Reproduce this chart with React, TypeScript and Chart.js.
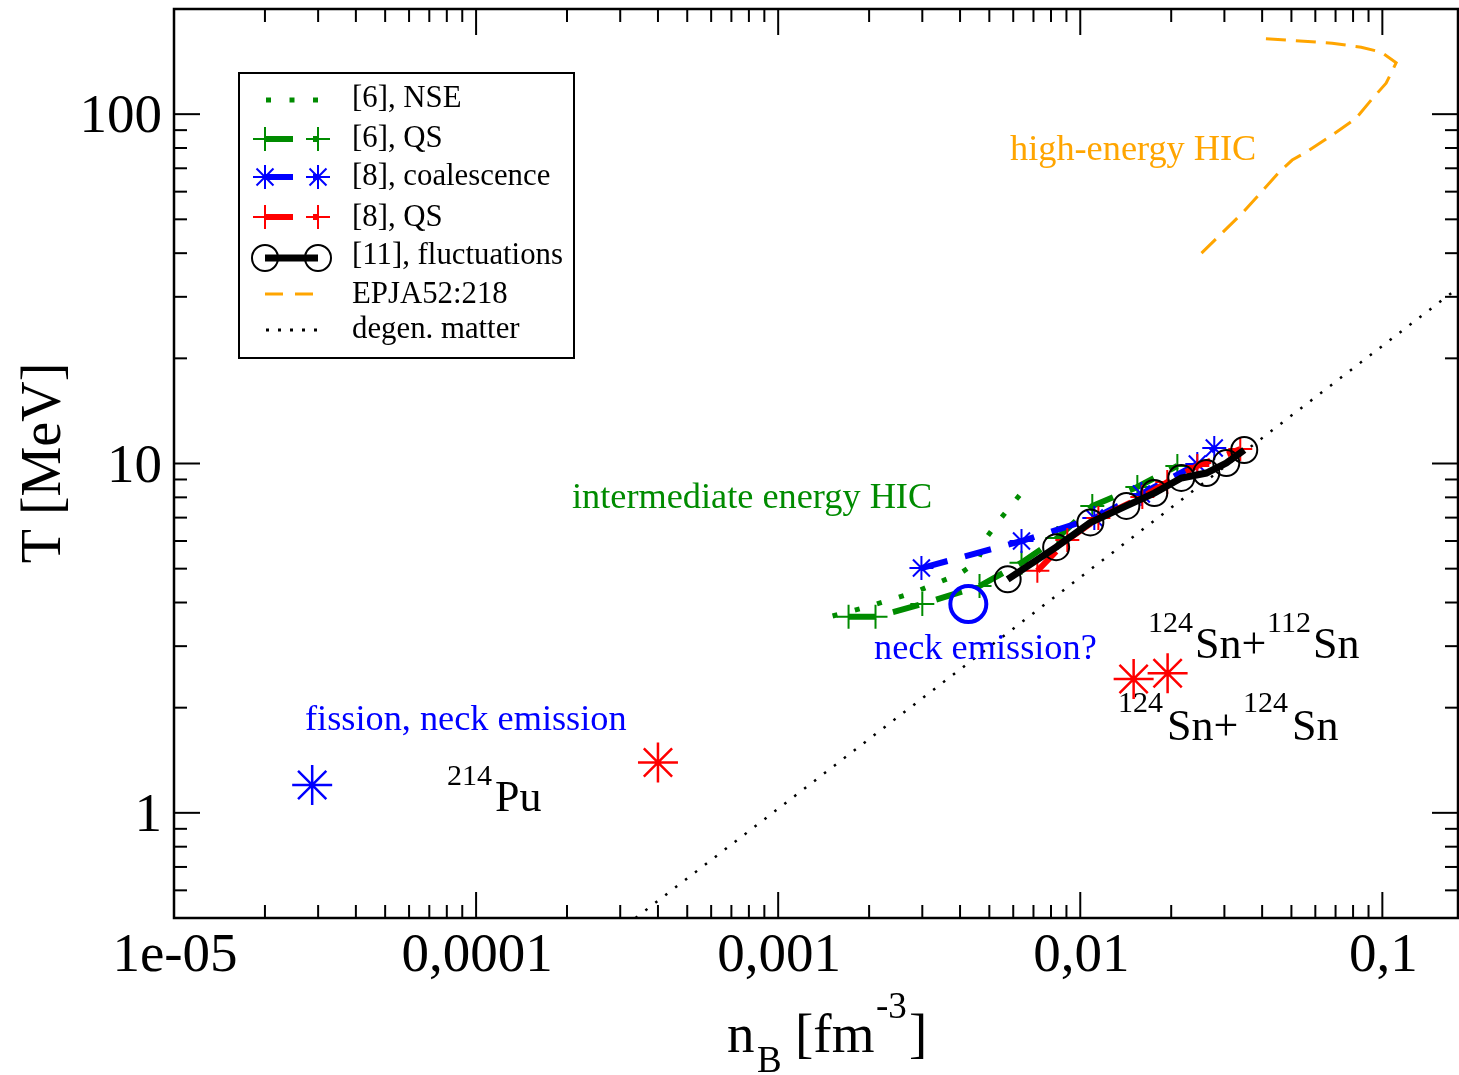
import React, { useEffect, useRef } from 'react';
import { Chart, registerables } from 'chart.js';

Chart.register(...registerables);

const SERIF = '"Liberation Serif", "Times New Roman", Times, serif';
const GREEN = '#008b00';
const BLUE = '#0000ff';
const RED = '#ff0000';
const ORANGE = '#ffa500';
const BLACK = '#000000';

// x: baryon density n_B [fm^-3], y: temperature T [MeV]
const nseDensity = [1.514e-3, 2.021e-3, 2.847e-3, 3.98e-3, 4.566e-3, 4.855e-3, 5.4e-3, 6.63e-3];
const nseTemp = [3.66, 3.91, 4.29, 4.83, 5.23, 6.08, 6.89, 8.57];

const qs6Density = [1.71e-3, 2.1e-3, 3.0e-3, 4.64e-3, 6.39e-3, 8.4e-3, 1.096e-2, 1.545e-2, 2.096e-2];
const qs6Temp = [3.64, 3.64, 3.96, 4.46, 5.2, 6.12, 7.56, 8.57, 9.84];

const coalDensity = [2.98e-3, 6.39e-3, 1.113e-2, 1.593e-2, 2.44e-2, 2.777e-2];
const coalTemp = [5.02, 6.0, 6.98, 8.18, 9.97, 11.08];

const qs8Density = [7.21e-3, 9.06e-3, 1.148e-2, 1.605e-2, 1.941e-2, 2.44e-2, 3.386e-2];
const qs8Temp = [4.93, 6.04, 6.98, 8.02, 8.85, 9.84, 11.0];

const flucDensity = [5.75e-3, 8.32e-3, 1.08e-2, 1.421e-2, 1.758e-2, 2.16e-2, 2.614e-2, 3.044e-2, 3.49e-2];
const flucTemp = [4.66, 5.76, 6.78, 7.56, 8.23, 9.09, 9.39, 10.03, 10.93];

const epjaDensity = [0.0252, 0.0344, 0.0456, 0.0503, 0.056, 0.0682, 0.0819, 0.0918, 0.1029, 0.1111, 0.0991, 0.0851, 0.0682, 0.0492, 0.04];
const epjaTemp = [40.0, 52.1, 68.3, 73.9, 77.9, 87.1, 97.4, 109.7, 122.7, 140.3, 150.5, 155.5, 159.6, 162.8, 164.7];

const degenDensity = [3.37e-4, 0.178];
const degenTemp = [0.5, 31.8];

const fissionDensity = [2.867e-5];
const fissionTemp = [1.202];
const puDensity = [4.0e-4];
const puTemp = [1.393];
const snDensity = [0.01502, 0.01946];
const snTemp = [2.417, 2.51];
const neckDensity = [4.26e-3];
const neckTemp = [3.96];

const xTickValues = [1e-5, 1e-4, 1e-3, 1e-2, 1e-1];
const xTickLabels = ['1e-05', '0,0001', '0,001', '0,01', '0,1'];
const yTickValues = [1, 10, 100];
const yTickLabels = ['1', '10', '100'];

const legendLabels = ['[6], NSE', '[6], QS', '[8], coalescence', '[8], QS', '[11], fluctuations', 'EPJA52:218', 'degen. matter'];

const pts = (xs: number[], ys: number[]) => xs.map((x, i) => ({ x, y: ys[i] }));

function seg(ctx: CanvasRenderingContext2D, x1: number, y1: number, x2: number, y2: number) {
  ctx.beginPath();
  ctx.moveTo(x1, y1);
  ctx.lineTo(x2, y2);
  ctx.stroke();
}
function plus(ctx: CanvasRenderingContext2D, x: number, y: number, r: number) {
  seg(ctx, x - r, y, x + r, y);
  seg(ctx, x, y - r, x, y + r);
}
function star(ctx: CanvasRenderingContext2D, x: number, y: number, r: number) {
  plus(ctx, x, y, r);
  const d = r * Math.SQRT1_2;
  seg(ctx, x - d, y - d, x + d, y + d);
  seg(ctx, x - d, y + d, x + d, y - d);
}
function txt(ctx: CanvasRenderingContext2D, s: string, x: number, y: number, size: number, color: string) {
  ctx.font = `${size}px ${SERIF}`;
  ctx.fillStyle = color;
  ctx.fillText(s, x, y);
}

const gracePlugin = {
  id: 'graceFrame',
  afterDraw(chart: any) {
    const { ctx, chartArea: a } = chart;
    const xs = chart.scales.x;
    const ys = chart.scales.y;
    ctx.save();
    ctx.setLineDash([]);
    ctx.strokeStyle = BLACK;
    ctx.lineCap = 'butt';

    // ticks (inward, mirrored)
    ctx.lineWidth = 2;
    const minorX: number[] = [];
    for (let e = -5; e <= -1; e++) for (let m = 2; m <= 9; m++) { const v = m * Math.pow(10, e); if (v < xs.max) minorX.push(v); }
    const minorY: number[] = [];
    for (let e = -1; e <= 2; e++) for (let m = 2; m <= 9; m++) { const v = m * Math.pow(10, e); if (v > ys.min && v < ys.max) minorY.push(v); }
    const xTick = (v: number, len: number) => {
      const p = xs.getPixelForValue(v);
      seg(ctx, p, a.bottom, p, a.bottom - len);
      seg(ctx, p, a.top, p, a.top + len);
    };
    const yTick = (v: number, len: number) => {
      const p = ys.getPixelForValue(v);
      seg(ctx, a.left, p, a.left + len, p);
      seg(ctx, a.right, p, a.right - len, p);
    };
    minorX.forEach((v) => xTick(v, 13));
    xTickValues.forEach((v) => xTick(v, 26));
    minorY.forEach((v) => yTick(v, 13));
    yTickValues.forEach((v) => yTick(v, 26));

    ctx.lineWidth = 2.5;
    ctx.strokeRect(a.left, a.top, a.right - a.left, a.bottom - a.top);

    // tick labels
    ctx.textBaseline = 'alphabetic';
    ctx.textAlign = 'center';
    xTickValues.forEach((v, i) => txt(ctx, xTickLabels[i], xs.getPixelForValue(v) + 1, 971, 55, BLACK));
    ctx.textAlign = 'right';
    yTickValues.forEach((v, i) => txt(ctx, yTickLabels[i], 162, ys.getPixelForValue(v) + 18, 55, BLACK));

    // axis titles
    ctx.save();
    ctx.translate(60, 463);
    ctx.rotate(-Math.PI / 2);
    ctx.textAlign = 'center';
    txt(ctx, 'T [MeV]', 0, 0, 56, BLACK);
    ctx.restore();
    ctx.textAlign = 'left';
    txt(ctx, 'n', 727, 1052, 55, BLACK);
    txt(ctx, 'B', 757, 1072, 37, BLACK);
    txt(ctx, '[fm', 795, 1052, 55, BLACK);
    txt(ctx, '-3', 876, 1018, 37, BLACK);
    txt(ctx, ']', 909, 1052, 55, BLACK);

    // annotations
    txt(ctx, 'high-energy HIC', 1010, 160, 36.3, ORANGE);
    txt(ctx, 'intermediate energy HIC', 572, 508, 36.3, GREEN);
    txt(ctx, 'neck emission?', 874, 659, 36.3, BLUE);
    txt(ctx, 'fission, neck emission', 305, 730, 36.3, BLUE);
    txt(ctx, '214', 447, 785, 30, BLACK);
    txt(ctx, 'Pu', 495, 811, 44, BLACK);
    txt(ctx, '124', 1148, 632, 30, BLACK);
    txt(ctx, 'Sn+', 1195, 658, 44, BLACK);
    txt(ctx, '112', 1267, 632, 30, BLACK);
    txt(ctx, 'Sn', 1313, 658, 44, BLACK);
    txt(ctx, '124', 1118, 712, 30, BLACK);
    txt(ctx, 'Sn+', 1167, 740, 44, BLACK);
    txt(ctx, '124', 1243, 712, 30, BLACK);
    txt(ctx, 'Sn', 1292, 740, 44, BLACK);

    // legend
    const L = 239, T = 73, R = 574, B = 358;
    ctx.fillStyle = '#ffffff';
    ctx.fillRect(L, T, R - L, B - T);
    ctx.strokeStyle = BLACK;
    ctx.lineWidth = 2;
    ctx.strokeRect(L, T, R - L, B - T);
    const sy = [100, 139, 177, 217, 258, 294, 330];
    const ty = [107, 147, 185, 226, 264, 303, 338];
    const x1 = 265, x2 = 318;
    // NSE
    ctx.strokeStyle = GREEN; ctx.lineWidth = 5; ctx.setLineDash([5, 18.5]);
    seg(ctx, 266, sy[0], 322, sy[0]);
    // QS green, coalescence, QS red
    const dashed = [[GREEN, 'plus'], [BLUE, 'star'], [RED, 'plus']];
    dashed.forEach(([col, m], k) => {
      const y = sy[k + 1];
      ctx.strokeStyle = col; ctx.lineWidth = 6; ctx.setLineDash([28, 20]);
      seg(ctx, x1, y, x2, y);
      ctx.setLineDash([]); ctx.lineWidth = 2;
      if (m === 'plus') { plus(ctx, x1, y, 12); plus(ctx, x2, y, 12); } else { star(ctx, x1, y, 12); star(ctx, x2, y, 12); }
    });
    // fluctuations
    ctx.strokeStyle = BLACK; ctx.lineWidth = 7; ctx.setLineDash([]);
    seg(ctx, x1, sy[4], x2, sy[4]);
    ctx.lineWidth = 2;
    [x1, x2].forEach((x) => { ctx.beginPath(); ctx.arc(x, sy[4], 13, 0, Math.PI * 2); ctx.stroke(); });
    // EPJA
    ctx.strokeStyle = ORANGE; ctx.lineWidth = 3; ctx.setLineDash([18, 12]);
    seg(ctx, 265, sy[5], 318, sy[5]);
    // degen
    ctx.strokeStyle = BLACK; ctx.lineWidth = 3; ctx.setLineDash([3, 9]);
    seg(ctx, 266, sy[6], 318, sy[6]);
    ctx.setLineDash([]);
    ctx.textAlign = 'left';
    legendLabels.forEach((s, i) => txt(ctx, s, 352, ty[i], 30.8, BLACK));

    ctx.restore();
  },
};

export default function App() {
  const ref = useRef<HTMLCanvasElement | null>(null);
  useEffect(() => {
    if (!ref.current) return;
    const chart = new Chart(ref.current, {
      type: 'scatter',
      data: {
        datasets: [
          {
            label: '214Pu', data: pts(puDensity, puTemp), pointStyle: 'star', pointRadius: 20,
            borderColor: RED, backgroundColor: RED, pointBorderWidth: 2.5, showLine: false, order: 0,
          },
          {
            label: 'fission', data: pts(fissionDensity, fissionTemp), pointStyle: 'star', pointRadius: 20,
            borderColor: BLUE, backgroundColor: BLUE, pointBorderWidth: 2.5, showLine: false, order: 0,
          },
          {
            label: 'Sn', data: pts(snDensity, snTemp), pointStyle: 'star', pointRadius: 20,
            borderColor: RED, backgroundColor: RED, pointBorderWidth: 2.5, showLine: false, order: 0,
          },
          {
            label: 'neck', data: pts(neckDensity, neckTemp), pointStyle: 'circle', pointRadius: 18,
            borderColor: BLUE, backgroundColor: 'rgba(0,0,0,0)', pointBorderWidth: 4, showLine: false, order: 0,
          },
          {
            label: legendLabels[4], data: pts(flucDensity, flucTemp), showLine: true,
            borderColor: BLACK, borderWidth: 7, pointStyle: 'circle', pointRadius: 13,
            pointBorderColor: BLACK, pointBackgroundColor: 'rgba(0,0,0,0)', pointBorderWidth: 2, order: 1,
          },
          {
            label: legendLabels[3], data: pts(qs8Density, qs8Temp), showLine: true,
            borderColor: RED, borderWidth: 6, borderDash: [27, 18], pointStyle: 'cross', pointRadius: 12,
            pointBorderColor: RED, pointBackgroundColor: RED, pointBorderWidth: 2, order: 2,
          },
          {
            label: legendLabels[2], data: pts(coalDensity, coalTemp), showLine: true,
            borderColor: BLUE, borderWidth: 6, borderDash: [27, 18], pointStyle: 'star', pointRadius: 12,
            pointBorderColor: BLUE, pointBackgroundColor: BLUE, pointBorderWidth: 2, order: 3,
          },
          {
            label: legendLabels[1], data: pts(qs6Density, qs6Temp), showLine: true,
            borderColor: GREEN, borderWidth: 6, borderDash: [27, 18], pointStyle: 'cross', pointRadius: 12,
            pointBorderColor: GREEN, pointBackgroundColor: GREEN, pointBorderWidth: 2, order: 4,
          },
          {
            label: legendLabels[0], data: pts(nseDensity, nseTemp), showLine: true,
            borderColor: GREEN, borderWidth: 5, borderDash: [5, 18], borderCapStyle: 'butt', pointRadius: 0, order: 5,
          },
          {
            label: legendLabels[5], data: pts(epjaDensity, epjaTemp), showLine: true,
            borderColor: ORANGE, borderWidth: 3, borderDash: [20, 10], pointRadius: 0, order: 6,
          },
          {
            label: legendLabels[6], data: pts(degenDensity, degenTemp), showLine: true,
            borderColor: BLACK, borderWidth: 2.5, borderDash: [2.5, 10], pointRadius: 0, order: 7,
          },
        ] as any,
      },
      options: {
        responsive: false,
        animation: false,
        devicePixelRatio: 1,
        layout: { autoPadding: false, padding: { left: 174, right: 1, top: 9, bottom: 157 } },
        scales: {
          x: { type: 'logarithmic', min: 1e-5, max: 0.178, display: false },
          y: { type: 'logarithmic', min: 0.5, max: 200, display: false },
        },
        plugins: { legend: { display: false }, tooltip: { enabled: false } },
        elements: { line: { tension: 0 } },
        events: [],
      } as any,
      plugins: [gracePlugin],
    });
    return () => chart.destroy();
  }, []);
  return (
    <div style={{ position: 'absolute', left: 0, top: 0, width: 1459, height: 1075, background: '#ffffff' }}>
      <canvas ref={ref} width={1459} height={1075} style={{ display: 'block' }} />
    </div>
  );
}
